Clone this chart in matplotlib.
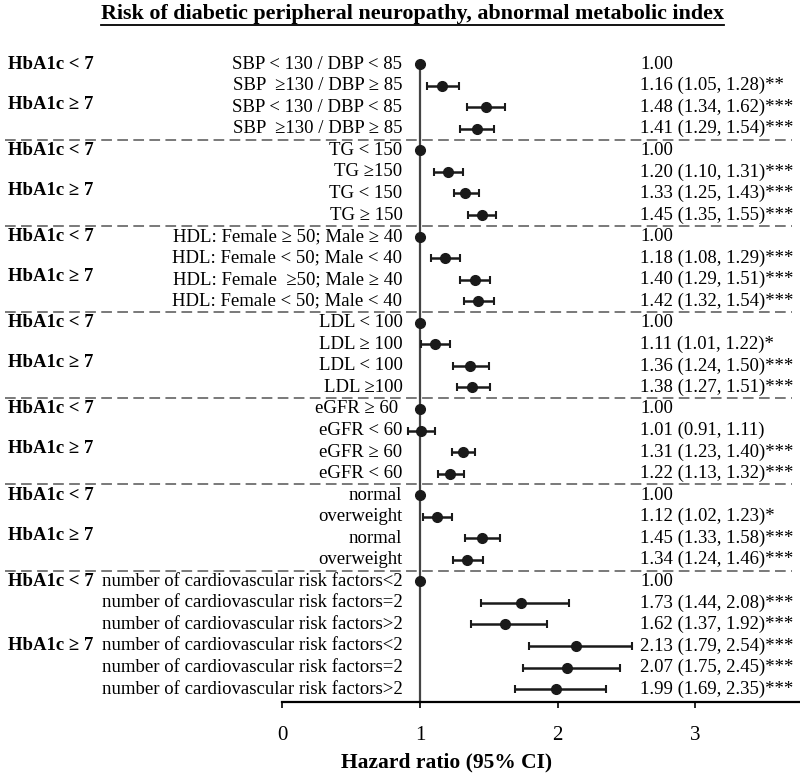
import numpy as np
import matplotlib
matplotlib.use('Agg')
import matplotlib.pyplot as plt
from matplotlib.transforms import blended_transform_factory
from matplotlib.lines import Line2D

plt.rcParams['font.family'] = ['Liberation Serif', 'DejaVu Serif']

# 数据
labels = [
    'SBP < 130 / DBP < 85', 'SBP  \u2265130 / DBP \u2265 85', 'SBP < 130 / DBP < 85', 'SBP  \u2265130 / DBP \u2265 85',
    'TG < 150', 'TG \u2265150', 'TG < 150', 'TG \u2265 150',
    'HDL: Female \u2265 50; Male \u2265 40', 'HDL: Female < 50; Male < 40',
    'HDL: Female  \u226550; Male \u2265 40', 'HDL: Female < 50; Male < 40',
    'LDL < 100', 'LDL \u2265 100', 'LDL < 100', 'LDL \u2265100',
    'eGFR \u2265 60 ', 'eGFR < 60', 'eGFR \u2265 60', 'eGFR < 60',
    'normal', 'overweight', 'normal', 'overweight',
    'number of cardiovascular risk factors<2', 'number of cardiovascular risk factors=2',
    'number of cardiovascular risk factors>2', 'number of cardiovascular risk factors<2',
    'number of cardiovascular risk factors=2', 'number of cardiovascular risk factors>2',
]
hr = [1.00, 1.16, 1.48, 1.41,
      1.00, 1.20, 1.33, 1.45,
      1.00, 1.18, 1.40, 1.42,
      1.00, 1.11, 1.36, 1.38,
      1.00, 1.01, 1.31, 1.22,
      1.00, 1.12, 1.45, 1.34,
      1.00, 1.73, 1.62, 2.13, 2.07, 1.99]
lower = [np.nan, 1.05, 1.34, 1.29,
         np.nan, 1.10, 1.25, 1.35,
         np.nan, 1.08, 1.29, 1.32,
         np.nan, 1.01, 1.24, 1.27,
         np.nan, 0.91, 1.23, 1.13,
         np.nan, 1.02, 1.33, 1.24,
         np.nan, 1.44, 1.37, 1.79, 1.75, 1.69]
upper = [np.nan, 1.28, 1.62, 1.54,
         np.nan, 1.31, 1.43, 1.55,
         np.nan, 1.29, 1.51, 1.54,
         np.nan, 1.22, 1.50, 1.51,
         np.nan, 1.11, 1.40, 1.32,
         np.nan, 1.23, 1.58, 1.46,
         np.nan, 2.08, 1.92, 2.54, 2.45, 2.35]
stars = ['', '**', '***', '***',
         '', '***', '***', '***',
         '', '***', '***', '***',
         '', '*', '***', '***',
         '', '', '***', '***',
         '', '*', '***', '***',
         '', '***', '***', '***', '***', '***']
group_sizes = [4, 4, 4, 4, 4, 4, 6]
group_lt7 = 'HbA1c < 7'
group_ge7 = 'HbA1c \u2265 7'
x_ticks = [0, 1, 2, 3]

hr = np.array(hr)
lower = np.array(lower)
upper = np.array(upper)
rows = np.arange(len(hr))

fig = plt.figure(figsize=(8, 7.74), dpi=100)
ax = fig.add_axes([0.353, 0.093, 0.647, 0.855])

# 参考线 x=1
ax.plot([1, 1], [0, len(hr) - 0.4], color='#444444', lw=1.6, zorder=1)

ref = np.isnan(lower)
ax.plot(hr[ref], rows[ref], 'o', color='#1a1a1a', ms=7, zorder=3)
ax.errorbar(hr[~ref], rows[~ref],
            xerr=[hr[~ref] - lower[~ref], upper[~ref] - hr[~ref]],
            fmt='o', color='#1a1a1a', ms=7, elinewidth=1.8,
            capsize=3, capthick=1.5, zorder=3)

ax.set_xlim(0, 3.76)
ax.set_ylim(len(hr) - 0.4, -1.11)
ax.set_xticks(x_ticks)
ax.set_xticklabels([str(t) for t in x_ticks], fontsize=15)
ax.tick_params(axis='x', length=4, width=1.2, pad=13)
ax.set_yticks([])
for s in ['left', 'top', 'right']:
    ax.spines[s].set_visible(False)
ax.spines['bottom'].set_linewidth(1.6)
ax.patch.set_alpha(0)

trans = blended_transform_factory(fig.transFigure, ax.transData)

# 左侧标签与右侧HR文本
for i in rows:
    ax.text(0.503, i, labels[i], transform=trans, ha='right', va='center', fontsize=13.5)
    if ref[i]:
        txt = f'{hr[i]:.2f}'
    else:
        txt = f'{hr[i]:.2f} ({lower[i]:.2f}, {upper[i]:.2f}){stars[i]}'
    ax.text(0.8, i, txt, transform=trans, ha='left', va='center', fontsize=13.5)

# 分组标签与虚线
start = 0
for k, n in enumerate(group_sizes):
    ax.text(0.01, start, group_lt7, transform=trans, ha='left', va='center',
            fontsize=13.5, fontweight='bold')
    off = n / 2 - (0.15 if n == 4 else 0)
    ax.text(0.01, start + off, group_ge7, transform=trans, ha='left', va='center',
            fontsize=13.5, fontweight='bold')
    start += n
    if k < len(group_sizes) - 1:
        ax.plot([0.006, 0.99], [start - 0.5, start - 0.5], transform=trans,
                color='#555555', lw=1.1, ls=(0, (7, 3.5)), clip_on=False)

ax.set_xlabel('Hazard ratio (95% CI)', fontsize=15.5, fontweight='bold')
ax.xaxis.set_label_coords(0.318, -0.077)

title = fig.text(0.516, 0.982, 'Risk of diabetic peripheral neuropathy, abnormal metabolic index',
                 ha='center', va='center', fontsize=15.8, fontweight='bold')

# 标题下划线
fig.canvas.draw()
bb = title.get_window_extent().transformed(fig.transFigure.inverted())
fig.add_artist(Line2D([bb.x0, bb.x1], [bb.y0 - 0.002, bb.y0 - 0.002],
                      transform=fig.transFigure, color='black', lw=1.3))

fig.savefig('out.png', dpi=100)
